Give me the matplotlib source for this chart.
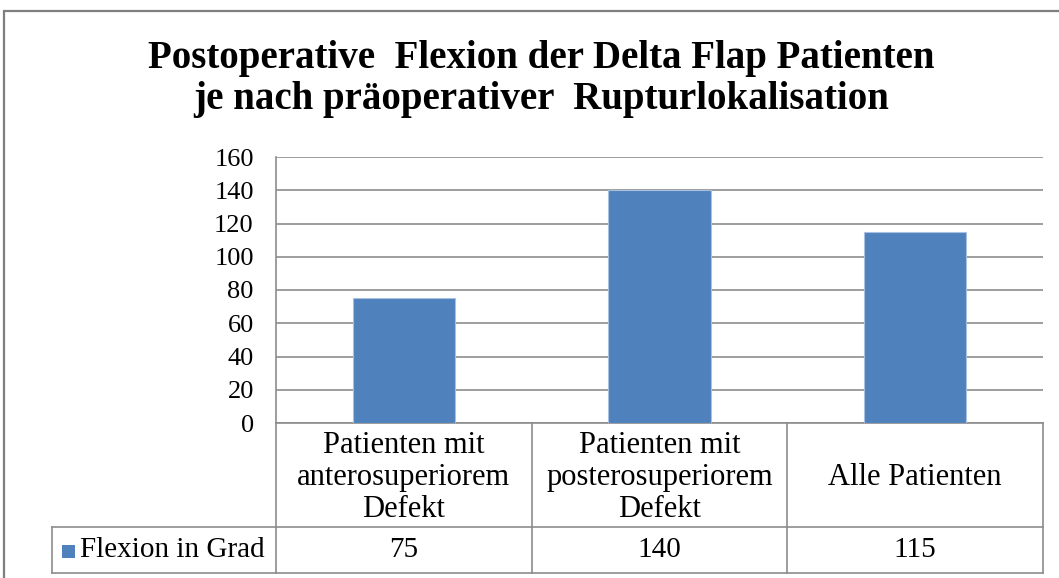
import matplotlib
matplotlib.use("Agg")
import matplotlib.pyplot as plt
import matplotlib.transforms as mtransforms
from matplotlib.patches import Rectangle

# Daten
kategorien = ["Patienten mit\nanterosuperiorem\nDefekt",
              "Patienten mit\nposterosuperiorem\nDefekt",
              "Alle Patienten"]
flexion = [75, 140, 115]
serie = "Flexion in Grad"
titel = "Postoperative  Flexion der Delta Flap Patienten\nje nach präoperativer  Rupturlokalisation"
y_ticks = [0, 20, 40, 60, 80, 100, 120, 140, 160]

W, H = 1059, 578
plt.rcParams['font.family'] = ['Liberation Serif', 'DejaVu Serif']
fig = plt.figure(figsize=(W / 100, H / 100), dpi=100, facecolor='white')

def px(x, y):
    # Pixel (von oben links) -> Figurkoordinaten
    return x / W, 1 - y / H

linie = '#8c8c8c'
blau = '#4f81bd'

# Rahmen des Diagrammbereichs
fig.patches.append(Rectangle(px(4, 600), 1.2, (600 - 11) / H, transform=fig.transFigure,
                             fill=False, edgecolor='#7f7f7f', linewidth=1.6))

ax = fig.add_axes([276 / W, 1 - 423 / H, (1043 - 276) / W, (423 - 157) / H])
x = list(range(len(kategorien)))
ax.bar(x, flexion, width=0.40, color=blau, edgecolor='#a9c1e0', linewidth=0.8, zorder=3)
ax.set_xlim(-0.5, len(kategorien) - 0.5)
ax.set_ylim(0, 160)
ax.set_yticks(y_ticks)
ax.tick_params(axis='y', length=0, pad=16, labelsize=19)
ax.set_xticks([])
ax.grid(axis='y', color=linie, linewidth=1.2, zorder=0)
for s in ['top', 'right', 'bottom']:
    ax.spines[s].set_visible(False)
ax.spines['left'].set_color(linie)
ax.spines['left'].set_linewidth(1.2)

# Datentabelle unter der Achse
trans = mtransforms.blended_transform_factory(ax.transData, fig.transFigure)
y0 = px(0, 423)[1]
y1 = px(0, 527)[1]
y2 = px(0, 573)[1]
grenzen = [i - 0.5 for i in range(len(kategorien) + 1)]
kw = dict(color=linie, linewidth=1.2, transform=fig.transFigure, clip_on=False)
for g in grenzen:
    ax.plot([g, g], [y0, y2], color=linie, linewidth=1.2, transform=trans, clip_on=False)
ax.plot([-0.5, grenzen[-1]], [y0, y0], color=linie, linewidth=1.2, transform=trans, clip_on=False)
links = px(52, 0)[0]
rechts = px(1043, 0)[0]
fig.add_artist(plt.Line2D([links, rechts], [y1, y1], **kw))
fig.add_artist(plt.Line2D([links, rechts], [y2, y2], **kw))
fig.add_artist(plt.Line2D([links, links], [y1, y2], **kw))

for i, (k, v) in enumerate(zip(kategorien, flexion)):
    ax.text(i, (y0 + y1) / 2 - 0.004, k, transform=trans, ha='center', va='center',
            fontsize=22, linespacing=1.13)
    ax.text(i, (y1 + y2) / 2, str(v), transform=trans, ha='center', va='center', fontsize=21)

# Legendenschlüssel und Serienname
fig.patches.append(Rectangle(px(62, 558), 13 / W, 13 / H, transform=fig.transFigure,
                             facecolor=blau, edgecolor='none'))
fig.text(px(80, 0)[0], (y1 + y2) / 2, serie, ha='left', va='center', fontsize=21)

fig.text(541 / W, px(0, 79)[1], titel, ha='center', va='center', fontsize=28,
         fontweight='bold', linespacing=1.15)

fig.savefig('out.png', dpi=100, facecolor='white')
